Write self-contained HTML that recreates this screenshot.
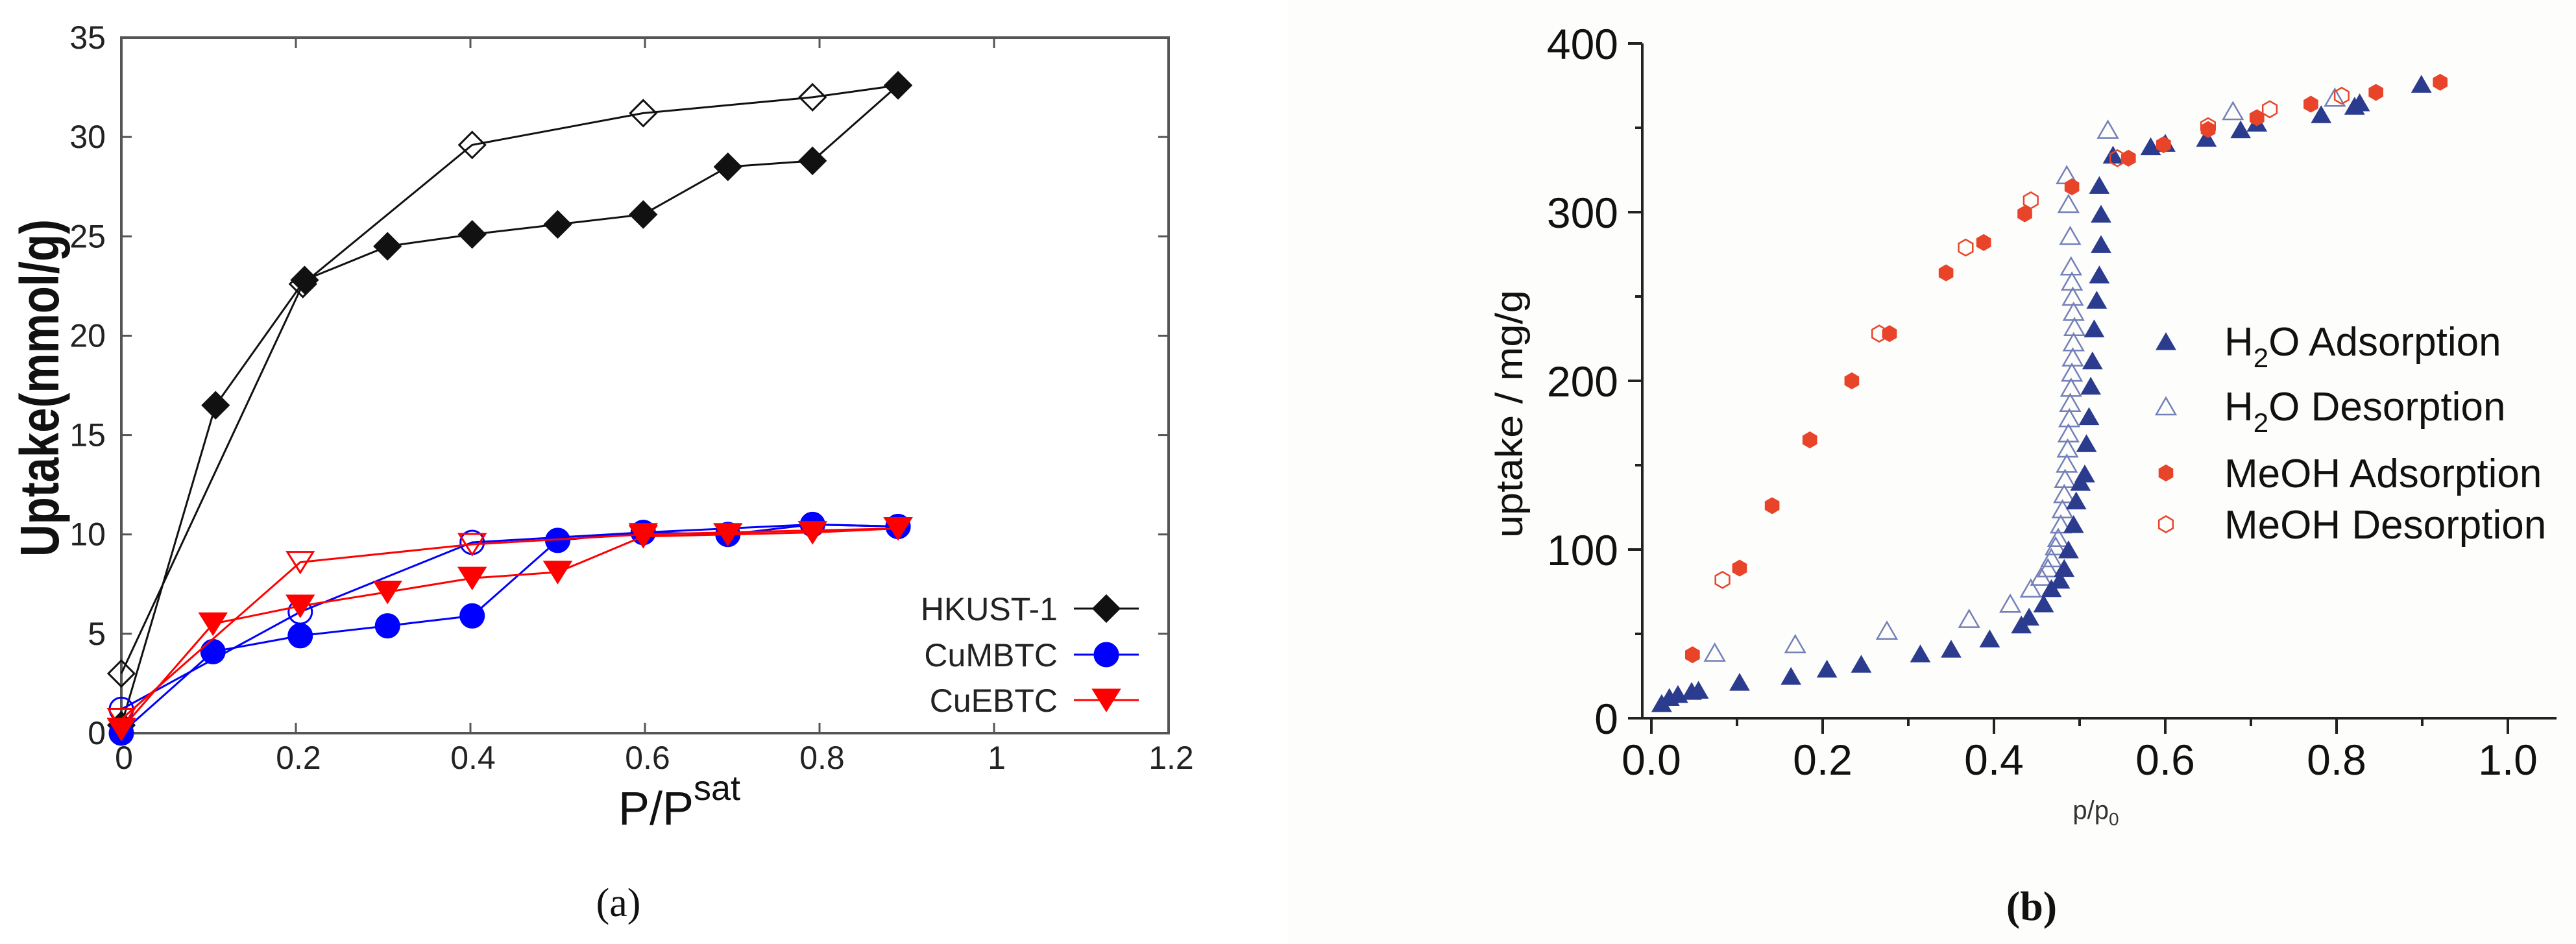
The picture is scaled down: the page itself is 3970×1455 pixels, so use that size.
<!DOCTYPE html>
<html>
<head>
<meta charset="utf-8">
<style>
  html,body{margin:0;padding:0;background:#ffffff;}
  svg{display:block;}
  .sans{font-family:"Liberation Sans Narrow","Liberation Sans",sans-serif;}
  .sansw{font-family:"Liberation Sans",sans-serif;}
  .serif{font-family:"Liberation Serif",serif;}
</style>
</head>
<body>
<svg id="fig" width="3970" height="1455" viewBox="0 0 3970 1455" xmlns="http://www.w3.org/2000/svg">
  <rect x="1985" y="0" width="1985" height="1455" fill="#fdfdfb"/>
  <g id="pa"></g>
  <g id="pb"></g>
</svg>
<script>
// ---------- Panel (a) data ----------
const aXTicks = [0, 0.2, 0.4, 0.6, 0.8, 1, 1.2];
const aXTickLabels = ["0", "0.2", "0.4", "0.6", "0.8", "1", "1.2"];
const aYTicks = [0, 5, 10, 15, 20, 25, 30, 35];
const aYTickLabels = ["0", "5", "10", "15", "20", "25", "30", "35"];
const hkustAdsX = [0, 0.108, 0.21, 0.305, 0.402, 0.5, 0.598, 0.695, 0.792, 0.89];
const hkustAdsY = [0.4, 16.5, 22.8, 24.5, 25.1, 25.6, 26.1, 28.5, 28.8, 32.6];
const hkustDesX = [0.89, 0.792, 0.598, 0.402, 0.208, 0];
const hkustDesY = [32.6, 32.0, 31.2, 29.6, 22.6, 3.0];
const cumAdsX = [0, 0.105, 0.205, 0.305, 0.402, 0.5, 0.598, 0.695, 0.792, 0.89];
const cumAdsY = [0, 4.1, 4.9, 5.4, 5.9, 9.7, 10.1, 10.0, 10.5, 10.4];
const cumDesX = [0.89, 0.792, 0.598, 0.402, 0.205, 0];
const cumDesY = [10.4, 10.5, 10.1, 9.6, 6.1, 1.2];
const cueAdsX = [0, 0.105, 0.205, 0.305, 0.402, 0.5, 0.598, 0.695, 0.792, 0.89];
const cueAdsY = [0.2, 5.5, 6.4, 7.1, 7.8, 8.1, 9.9, 10.0, 10.1, 10.3];
const cueDesX = [0.89, 0.598, 0.402, 0.205, 0];
const cueDesY = [10.3, 10.0, 9.5, 8.6, 0.7];
const aLegendLabels = ["HKUST-1", "CuMBTC", "CuEBTC"];

// ---------- Panel (b) data ----------
const bXTicks = [0, 0.2, 0.4, 0.6, 0.8, 1.0];
const bXTickLabels = ["0.0", "0.2", "0.4", "0.6", "0.8", "1.0"];
const bXMinor = [0.1, 0.3, 0.5, 0.7, 0.9];
const bYTicks = [0, 100, 200, 300, 400];
const bYTickLabels = ["0", "100", "200", "300", "400"];
const bYMinor = [50, 150, 250, 350];
const h2oAdsX = [0.012,0.021,0.031,0.047,0.055,0.103,0.163,0.205,0.245,0.314,0.350,0.395,0.432,0.441,0.458,0.467,0.477,0.482,0.487,0.493,0.496,0.501,0.506,0.508,0.511,0.513,0.515,0.517,0.520,0.523,0.525,0.525,0.523,0.539,0.583,0.600,0.648,0.688,0.707,0.782,0.821,0.827,0.899];
const h2oAdsY = [8.9,12.5,14.3,16.1,16.8,21.5,25.0,29.3,32.2,38.3,41.1,47.2,55.5,60.1,68,77,82,89,100,115,129,140,145,163,179,197,212,231,248,263,281,299,316,334,339,341,344,349,353,358,363,365,376];
const h2oDesX = [0.074,0.168,0.275,0.371,0.419,0.443,0.455,0.463,0.467,0.472,0.475,0.478,0.480,0.482,0.483,0.485,0.486,0.487,0.488,0.489,0.490,0.491,0.492,0.493,0.494,0.493,0.492,0.491,0.490,0.489,0.487,0.485,0.533,0.679,0.798];
const h2oDesY = [39,44,52,59,68,77,84,89,95,102,107,115,124,133,142,151,160,169,178,187,196,205,214,223,232,241,250,259,268,286,305,322,349,360,368];
const meohAdsX = [0.048,0.103,0.141,0.185,0.234,0.278,0.344,0.388,0.436,0.491,0.557,0.598,0.650,0.707,0.770,0.846,0.921];
const meohAdsY = [37.6,89,126,165,200,228,264,282,299,315,332,340,349,356,364,371,377];
const meohDesX = [0.083,0.266,0.367,0.443,0.544,0.650,0.722,0.806];
const meohDesY = [82,228,279,307,332,351,361,369];
const bLegendLabels = ["Adsorption", "Desorption", "Adsorption", "Desorption"];

const NS = "http://www.w3.org/2000/svg";
function mk(tag, attrs, parent) {
  const e = document.createElementNS(NS, tag);
  for (const k in attrs) e.setAttribute(k, attrs[k]);
  parent.appendChild(e);
  return e;
}

// ================= Panel A =================
const pa = document.getElementById("pa");
const aL = 187, aR = 1801, aT = 58, aB = 1130;
const ax = v => aL + (v - 0) / 1.2 * (aR - aL);
const ay = v => aB - v / 35 * (aB - aT);
const AXC = "#555";

let frame = mk("rect", {x: aL, y: aT, width: aR - aL, height: aB - aT, fill: "none", stroke: AXC, "stroke-width": 4}, pa);



aXTicks.forEach((v, i) => {
  const x = ax(v);
  let t1 = mk("line", {x1: x, y1: aB, x2: x, y2: aB - 16, stroke: AXC, "stroke-width": 3}, pa);
  
  
  let t2 = mk("line", {x1: x, y1: aT, x2: x, y2: aT + 16, stroke: AXC, "stroke-width": 3}, pa);
  
  
  let lb = mk("text", {x: x + 4, y: 1185, "text-anchor": "middle", "font-size": 50, fill: "#222", class: "sans"}, pa);
  lb.textContent = aXTickLabels[i];
  
  
});
aYTicks.forEach((v, i) => {
  const y = ay(v);
  let t1 = mk("line", {x1: aL, y1: y, x2: aL + 16, y2: y, stroke: AXC, "stroke-width": 3}, pa);
  
  
  let t2 = mk("line", {x1: aR, y1: y, x2: aR - 16, y2: y, stroke: AXC, "stroke-width": 3}, pa);
  
  
  let lb = mk("text", {x: 163, y: y + 17, "text-anchor": "end", "font-size": 50, fill: "#222", class: "sans"}, pa);
  lb.textContent = aYTickLabels[i];
  
  
});

let ytA = mk("text", {x: 0, y: 0, "text-anchor": "middle", "font-size": 84, "font-weight": "bold", fill: "#111", class: "sansw", textLength: 520, lengthAdjust: "spacingAndGlyphs", transform: "translate(90,598) rotate(-90)"}, pa);
ytA.textContent = "Uptake(mmol/g)";



let xtA = mk("text", {x: 1047, y: 1271, "text-anchor": "middle", "font-size": 72, fill: "#111", class: "sans"}, pa);
xtA.innerHTML = 'P/P<tspan dy="-38" font-size="54">sat</tspan>';



function diamond(g, x, y, filled, color) {
  const s = 20;
  return mk("polygon", {points: `${x},${y - s} ${x + s},${y} ${x},${y + s} ${x - s},${y}`, fill: filled ? color : "#fff", "fill-opacity": filled ? 1 : 0, stroke: color, "stroke-width": 3}, g);
}
function circ(g, x, y, filled, color) {
  return mk("circle", {cx: x, cy: y, r: 18, fill: filled ? color : "none", stroke: color, "stroke-width": 3}, g);
}
function tri(g, x, y, filled, color) {
  const w = 20, h = 32;
  return mk("polygon", {points: `${x - w},${y - h / 2} ${x + w},${y - h / 2} ${x},${y + h / 2}`, fill: filled ? color : "none", stroke: color, "stroke-width": 3}, g);
}

function seriesA(xs, ys, color, shape, filled, name) {
  const g = mk("g", {}, pa);
  
  
  const pts = xs.map((v, i) => ax(v) + "," + ay(ys[i])).join(" ");
  let pl = mk("polyline", {points: pts, fill: "none", stroke: color, "stroke-width": 3}, g);
  
  
  xs.forEach((v, i) => {
    const m = shape(g, ax(v), ay(ys[i]), filled, color);
    
    
  });
}
seriesA(hkustDesX, hkustDesY, "#111", diamond, false, "hkust-1-desorption");
seriesA(hkustAdsX, hkustAdsY, "#111", diamond, true, "hkust-1-adsorption");
seriesA(cumDesX, cumDesY, "#0000ff", circ, false, "cumbtc-desorption");
seriesA(cumAdsX, cumAdsY, "#0000ff", circ, true, "cumbtc-adsorption");
seriesA(cueDesX, cueDesY, "#ff0000", tri, false, "cuebtc-desorption");
seriesA(cueAdsX, cueAdsY, "#ff0000", tri, true, "cuebtc-adsorption");

const aLegColors = ["#111", "#0000ff", "#ff0000"];
const aLegShapes = [diamond, circ, tri];
const aLegY = [938, 1009, 1079];
aLegendLabels.forEach((lab, i) => {
  const g = mk("g", {}, pa);
  
  
  let t = mk("text", {x: 1630, y: aLegY[i] + 18, "text-anchor": "end", "font-size": 50, fill: "#222", class: "sans"}, g);
  t.textContent = lab;
  
  
  let l = mk("line", {x1: 1655, y1: aLegY[i], x2: 1755, y2: aLegY[i], stroke: aLegColors[i], "stroke-width": 3}, g);
  
  
  const m = aLegShapes[i](g, 1705, aLegY[i], true, aLegColors[i]);
  
  
});

let capA = mk("text", {x: 953, y: 1412, "text-anchor": "middle", "font-size": 62, fill: "#111", class: "serif"}, pa);
capA.textContent = "(a)";



// ================= Panel B =================
const pb = document.getElementById("pb");
const bAxisX = 2531, bB = 1107, bT = 67;
const bx = v => 2545 + v * 1320;
const by = v => bB - v / 400 * (bB - bT);
const BC = "#222", NAVY = "#2b3b8e", ORG = "#e8442a";

let yaxB = mk("line", {x1: bAxisX, y1: bB, x2: bAxisX, y2: bT, stroke: BC, "stroke-width": 4}, pb);


let xaxB = mk("line", {x1: 2510, y1: bB, x2: 3940, y2: bB, stroke: BC, "stroke-width": 4}, pb);



bYTicks.forEach((v, i) => {
  const y = by(v);
  let t = mk("line", {x1: bAxisX - 22, y1: y, x2: bAxisX, y2: y, stroke: BC, "stroke-width": 4}, pb);
  
  
  let lb = mk("text", {x: 2494, y: y + 24, "text-anchor": "end", "font-size": 66, fill: "#111", class: "sansw"}, pb);
  lb.textContent = bYTickLabels[i];
  
  
});
bYMinor.forEach(v => {
  let t = mk("line", {x1: bAxisX - 11, y1: by(v), x2: bAxisX, y2: by(v), stroke: BC, "stroke-width": 4}, pb);
  
  
});
bXTicks.forEach((v, i) => {
  const x = bx(v);
  let t = mk("line", {x1: x, y1: bB, x2: x, y2: bB + 24, stroke: BC, "stroke-width": 4}, pb);
  
  
  let lb = mk("text", {x: x, y: 1194, "text-anchor": "middle", "font-size": 66, fill: "#111", class: "sansw"}, pb);
  lb.textContent = bXTickLabels[i];
  
  
});
bXMinor.forEach(v => {
  let t = mk("line", {x1: bx(v), y1: bB, x2: bx(v), y2: bB + 12, stroke: BC, "stroke-width": 4}, pb);
  
  
});

let ytB = mk("text", {x: 0, y: 0, "text-anchor": "middle", "font-size": 58, fill: "#111", class: "sansw", textLength: 382, lengthAdjust: "spacingAndGlyphs", transform: "translate(2346,638) rotate(-90)"}, pb);
ytB.textContent = "uptake / mg/g";



let xtB = mk("text", {x: 3230, y: 1262, "text-anchor": "middle", "font-size": 40, fill: "#333", class: "sansw"}, pb);
xtB.innerHTML = 'p/p<tspan dy="10" font-size="28">0</tspan>';



function btri(g, x, y, filled) {
  const w = 15, h = 26;
  return mk("polygon", {points: `${x - w},${y + h / 2} ${x + w},${y + h / 2} ${x},${y - h / 2}`, fill: filled ? NAVY : "none", stroke: filled ? NAVY : "#7480b8", "stroke-width": filled ? 1 : 2.5}, g);
}
function hex(g, x, y, filled) {
  const r = 12.5;
  let p = [];
  for (let k = 0; k < 6; k++) { const a = Math.PI / 6 + k * Math.PI / 3; p.push((x + r * Math.cos(a)).toFixed(1) + "," + (y + r * Math.sin(a)).toFixed(1)); }
  return mk("polygon", {points: p.join(" "), fill: filled ? ORG : "none", stroke: ORG, "stroke-width": filled ? 1 : 2.5}, g);
}
function seriesB(xs, ys, shape, filled, name) {
  const g = mk("g", {}, pb);
  
  
  xs.forEach((v, i) => {
    const m = shape(g, bx(v), by(ys[i]), filled);
    
    
  });
}
seriesB(h2oDesX, h2oDesY, btri, false, "h2o-desorption");
seriesB(h2oAdsX, h2oAdsY, btri, true, "h2o-adsorption");
seriesB(meohAdsX, meohAdsY, hex, true, "meoh-adsorption");
seriesB(meohDesX, meohDesY, hex, false, "meoh-desorption");

const bLegY = [526, 626, 729, 808];
const bLegPrefix = ["H2O", "H2O", "MeOH", "MeOH"];
const bLegShapes = [btri, btri, hex, hex];
const bLegFilled = [true, false, true, false];
bLegendLabels.forEach((lab, i) => {
  const g = mk("g", {}, pb);
  
  
  const m = bLegShapes[i](g, 3338, bLegY[i], bLegFilled[i]);
  
  
  let t = mk("text", {x: 3428, y: bLegY[i] + 22, "font-size": 62, fill: "#111", class: "sansw"}, g);
  if (bLegPrefix[i] === "H2O") {
    t.innerHTML = 'H<tspan dy="18" font-size="42">2</tspan><tspan dy="-18">O ' + lab + '</tspan>';
  } else {
    t.textContent = "MeOH " + lab;
  }
  
  
});

let capB = mk("text", {x: 3131, y: 1418, "text-anchor": "middle", "font-size": 64, "font-weight": "bold", fill: "#111", class: "serif"}, pb);
capB.innerHTML = '(<tspan font-weight="bold">b</tspan>)';


</script>
</body>
</html>
